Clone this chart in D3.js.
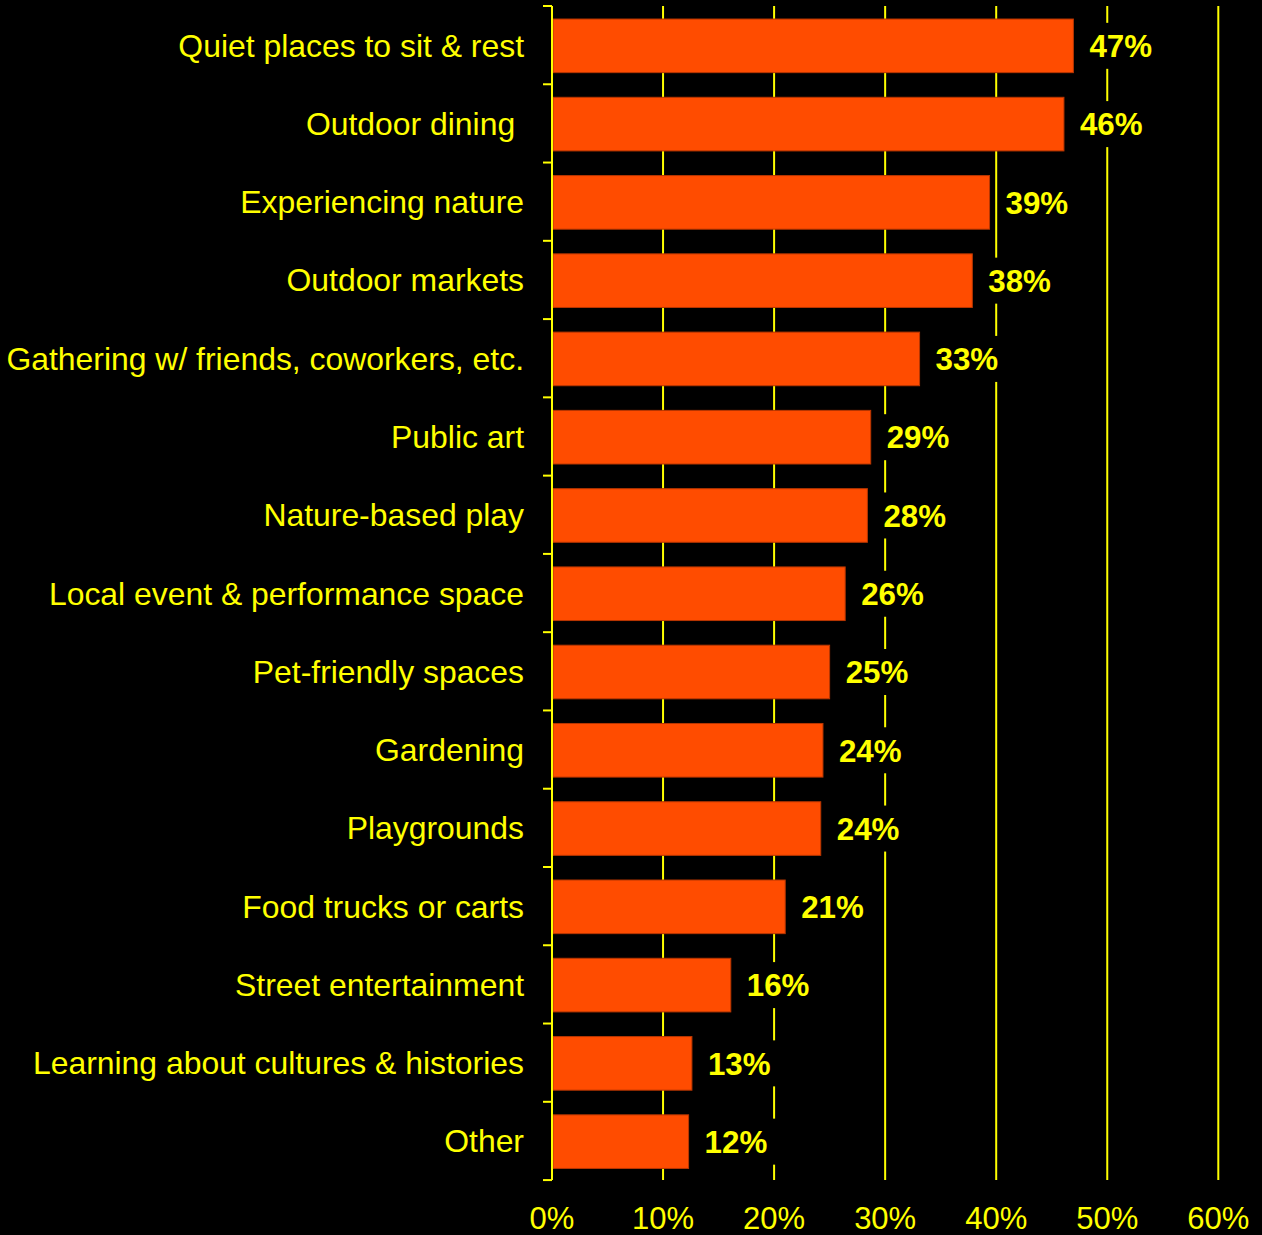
<!DOCTYPE html>
<html>
<head>
<meta charset="utf-8">
<script src="https://cdn.jsdelivr.net/npm/d3@7"></script>
<style>
  html, body { margin: 0; padding: 0; background: #000; }
  svg { display: block; }
  text { white-space: pre; }
</style>
</head>
<body>
<svg id="chart" width="1262" height="1235"></svg>
<script>
const categories = [
  "Quiet places to sit & rest",
  "Outdoor dining ",
  "Experiencing nature",
  "Outdoor markets",
  "Gathering w/ friends, coworkers, etc.",
  "Public art",
  "Nature-based play",
  "Local event & performance space",
  "Pet-friendly spaces",
  "Gardening",
  "Playgrounds",
  "Food trucks or carts",
  "Street entertainment",
  "Learning about cultures & histories",
  "Other"
];
const values = [46.95, 46.1, 39.4, 37.85, 33.1, 28.7, 28.4, 26.4, 25.0, 24.4, 24.2, 21.0, 16.1, 12.6, 12.3];
const valueLabels = ["47%", "46%", "39%", "38%", "33%", "29%", "28%", "26%", "25%", "24%", "24%", "21%", "16%", "13%", "12%"];
const xTicks = [0, 10, 20, 30, 40, 50, 60];

(function () {
const yellow = "#FFFF00";
const barColor = "#FF4C00";
const font = "Liberation Sans, Arial, sans-serif";

const svg = d3.select("#chart");
const pLeft = 552, pRight = 1218.3, pTop = 6, pBottom = 1180;

const x = d3.scaleLinear().domain([0, 60]).range([pLeft, pRight]);
const y = d3.scaleBand().domain(categories).range([pTop, pBottom])
  .paddingInner(0.315).paddingOuter(0.157).align(0.53);

// Gridlines
svg.append("g").selectAll("line").data(xTicks.filter(d => d > 0)).join("line")
  .attr("x1", d => x(d)).attr("x2", d => x(d))
  .attr("y1", pTop).attr("y2", pBottom)
  .attr("stroke", yellow).attr("stroke-width", 2);

// Bars
svg.append("g").selectAll("rect").data(categories).join("rect")
  .attr("x", x(0) + 1)
  .attr("y", d => y(d))
  .attr("width", (d, i) => x(values[i]) - x(0) - 1)
  .attr("height", y.bandwidth())
  .attr("fill", barColor)
  .attr("stroke", "#B83600").attr("stroke-width", 1);

// Value labels with black background
const vl = svg.append("g").selectAll("g").data(categories).join("g");
vl.each(function(d, i) {
  const g = d3.select(this);
  const tx = x(values[i]) + 16;
  const cy = y(d) + y.bandwidth() / 2;
  const bg = g.append("rect").attr("fill", "#000");
  const t = g.append("text")
    .attr("x", tx).attr("y", cy).attr("dy", "0.36em")
    .attr("fill", yellow)
    .attr("font-family", font).attr("font-weight", "bold").attr("font-size", 31.3)
    .text(valueLabels[i]);
  const w = t.node().getComputedTextLength();
  bg.attr("x", tx - 4).attr("y", cy - 23).attr("width", w + 14).attr("height", 46);
});

// Axis line and ticks
svg.append("line").attr("x1", pLeft).attr("x2", pLeft).attr("y1", pTop).attr("y2", pBottom)
  .attr("stroke", yellow).attr("stroke-width", 2);
const boundaries = d3.range(categories.length + 1).map(i => pTop + i * y.step());
svg.append("g").selectAll("line").data(boundaries).join("line")
  .attr("x1", pLeft - 9).attr("x2", pLeft)
  .attr("y1", d => d).attr("y2", d => d)
  .attr("stroke", yellow).attr("stroke-width", 2);

// Category labels
svg.append("g").selectAll("text").data(categories).join("text")
  .attr("x", 524)
  .attr("y", d => y(d) + y.bandwidth() / 2)
  .attr("dy", "0.34em")
  .attr("text-anchor", "end")
  .attr("fill", yellow)
  .attr("font-family", font).attr("font-size", 31.9)
  .text(d => d);

// X tick labels
svg.append("g").selectAll("text").data(xTicks).join("text")
  .attr("x", d => x(d))
  .attr("y", 1229)
  .attr("text-anchor", "middle")
  .attr("fill", yellow)
  .attr("font-family", font).attr("font-size", 31)
  .text(d => d + "%");
})();
</script>
</body>
</html>
